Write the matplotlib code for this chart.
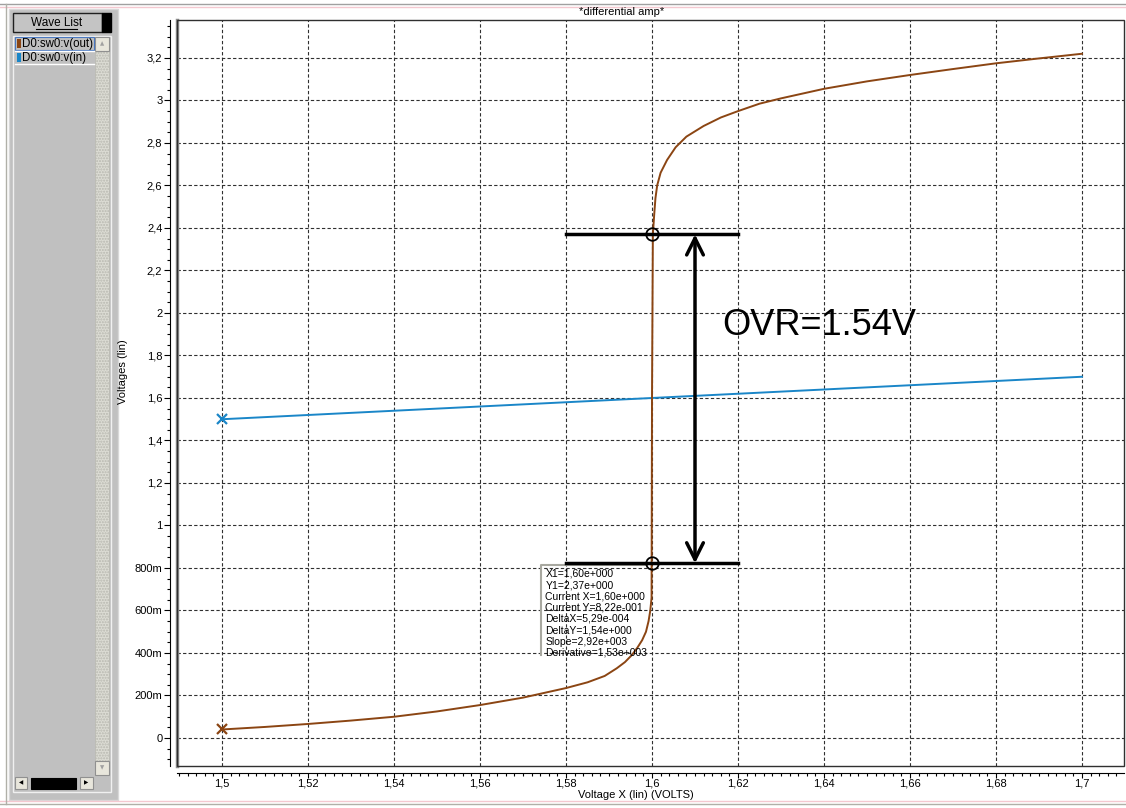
import matplotlib
matplotlib.use("Agg")
import matplotlib.pyplot as plt
from matplotlib.patches import Rectangle
from matplotlib.ticker import MultipleLocator, FixedLocator

# v(in) sweep: straight line
vin_x = [1.5, 1.7]
vin_y = [1.5, 1.7]

# v(out) transfer curve
vout_x = [1.5, 1.51, 1.52, 1.53, 1.54, 1.55, 1.56, 1.57, 1.58, 1.585, 1.589,
          1.5918, 1.5937, 1.5953, 1.5966, 1.5977, 1.5986, 1.5992, 1.5996, 1.5999,
          1.6, 1.6002,
          1.6005, 1.6008, 1.6012, 1.602, 1.6035, 1.6055, 1.608, 1.612, 1.616,
          1.62, 1.625, 1.63, 1.64, 1.65, 1.66, 1.67, 1.68, 1.69, 1.7]
vout_y = [0.04, 0.052, 0.066, 0.082, 0.10, 0.125, 0.155, 0.19, 0.235, 0.262, 0.292,
          0.328, 0.357, 0.39, 0.425, 0.46, 0.50, 0.55, 0.60, 0.66,
          1.6, 2.37,
          2.46, 2.54, 2.60, 2.66, 2.72, 2.78, 2.83, 2.88, 2.92,
          2.95, 2.985, 3.01, 3.055, 3.09, 3.12, 3.148, 3.175, 3.198, 3.22]

# cursor readout
x1, y1 = 1.6, 2.37
cur_x, cur_y = 1.6, 0.822
ovr = 1.54
cursor_lines = ["X1=1,60e+000", "Y1=2,37e+000", "Current X=1,60e+000",
                "Current Y=8,22e-001", "DeltaX=5,29e-004", "DeltaY=1,54e+000",
                "Slope=2,92e+003", "Derivative=1,53e+003"]

yticks = [0, 0.2, 0.4, 0.6, 0.8, 1.0, 1.2, 1.4, 1.6, 1.8, 2.0, 2.2, 2.4, 2.6, 2.8, 3.0, 3.2]
ylabels = ["0", "200m", "400m", "600m", "800m", "1", "1,2", "1,4", "1,6", "1,8",
           "2", "2,2", "2,4", "2,6", "2,8", "3", "3,2"]
xticks = [1.5, 1.52, 1.54, 1.56, 1.58, 1.6, 1.62, 1.64, 1.66, 1.68, 1.7]
xlabels = ["1,5", "1,52", "1,54", "1,56", "1,58", "1,6", "1,62", "1,64", "1,66", "1,68", "1,7"]

BROWN = "#8b4513"
BLUE = "#1a86c8"
W, H = 1126, 808

plt.rcParams['font.family'] = ['Liberation Sans', 'DejaVu Sans']

fig = plt.figure(figsize=(W / 100, H / 100), dpi=100)


def px(x0, y0, x1_, y1_):
    # pixel box (top-left origin) -> figure fraction rect
    return (x0 / W, 1 - y1_ / H, (x1_ - x0) / W, (y1_ - y0) / H)


def frect(x0, y0, x1_, y1_, **kw):
    l, b, w, h = px(x0, y0, x1_, y1_)
    fig.patches.append(Rectangle((l, b), w, h, transform=fig.transFigure, **kw))


def fline(xs, ys, **kw):
    fig.add_artist(plt.Line2D([x / W for x in xs], [1 - y / H for y in ys],
                              transform=fig.transFigure, **kw))


# window frame
fline([0, W], [4, 4], color="#a0a0a0", lw=1)
fline([0, W], [7, 7], color="#f4c8d0", lw=1)
fline([0, W], [801, 801], color="#f4c8d0", lw=1)
fline([0, W], [804, 804], color="#b0b0a8", lw=1)
fline([6, 6], [4, 804], color="#b0b0a8", lw=1)

# wave list panel
frect(9, 9, 118, 800, facecolor="#c0c0c0", edgecolor="#d8d8d8", lw=1)
frect(13, 13, 102, 32, facecolor="#c4c4c4", edgecolor="#202020", lw=1)
frect(102, 13, 111, 32, facecolor="black", edgecolor="black", lw=1)
fig.text(57 / W, 1 - 22.5 / H, "Wave List", ha="center", va="center", fontsize=8.5)
fline([36, 77], [29, 29], color="black", lw=0.8)
frect(13, 36, 111, 792, facecolor="#c0c0c0", edgecolor="#f0f0f0", lw=1)
frect(95, 37, 109, 775, facecolor="#dcdcd4", edgecolor="#b8b8b0", lw=0.5,
      hatch="......")
frect(95, 37, 109, 51, facecolor="#e8e6dc", edgecolor="#909090", lw=0.8)
fig.text(102 / W, 1 - 44 / H, "▲", ha="center", va="center", fontsize=4,
         color="#a0a0a0", family="DejaVu Sans")
frect(95, 761, 109, 775, facecolor="#e8e6dc", edgecolor="#909090", lw=0.8)
fig.text(102 / W, 1 - 768 / H, "▼", ha="center", va="center", fontsize=4,
         color="#a0a0a0", family="DejaVu Sans")
frect(15, 777, 27, 789, facecolor="#e8e6dc", edgecolor="#909090", lw=0.8)
fig.text(21 / W, 1 - 783 / H, "◀", ha="center", va="center", fontsize=4,
         family="DejaVu Sans")
frect(31, 778, 76, 789, facecolor="black", edgecolor="black", lw=0.8)
frect(80, 777, 93, 789, facecolor="#e8e6dc", edgecolor="#909090", lw=0.8)
fig.text(86.5 / W, 1 - 783 / H, "▶", ha="center", va="center", fontsize=4,
         family="DejaVu Sans")
frect(15, 37, 94, 50, facecolor="#c0c0c0", edgecolor="#4a78c0", lw=0.8)
frect(17, 39, 21, 48, facecolor=BROWN, edgecolor="none")
fig.text(22 / W, 1 - 44 / H, "D0:sw0:v(out)", va="center", fontsize=8.3)
fline([15, 94], [51, 51], color="white", lw=1)
frect(17, 53, 21, 62, facecolor=BLUE, edgecolor="none")
fig.text(22 / W, 1 - 58 / H, "D0:sw0:v(in)", va="center", fontsize=8.3)
fline([15, 94], [64, 64], color="white", lw=1)

# plot area
ax = fig.add_axes(px(177, 20, 1124, 766))
ax.set_xlim(1.48953, 1.70977)
ax.set_ylim(-0.1318, 3.3788)

for s in ax.spines.values():
    s.set_visible(False)
ax.spines['left'].set_visible(True)
ax.spines['bottom'].set_visible(True)
ax.spines['left'].set_position(('outward', 5))
ax.spines['bottom'].set_position(('outward', 5))
ax.spines['left'].set_linewidth(0.8)
ax.spines['bottom'].set_linewidth(0.8)
ax.add_patch(Rectangle((0, 0), 1, 1, transform=ax.transAxes, fill=False,
                       edgecolor="#303030", lw=1.0, clip_on=False, zorder=5))
ax.plot([0, 0], [0, 1], transform=ax.transAxes, color="#909090", lw=2.5,
        clip_on=False, zorder=4)

ax.yaxis.set_major_locator(FixedLocator(yticks))
ax.set_yticklabels(ylabels)
ax.yaxis.set_minor_locator(MultipleLocator(0.05))
ax.xaxis.set_major_locator(FixedLocator(xticks))
ax.set_xticklabels(xlabels)
ax.xaxis.set_minor_locator(MultipleLocator(0.002))
ax.tick_params(which="major", length=4, width=0.8, labelsize=8, pad=1.5, direction="out")
ax.tick_params(axis="x", which="major", length=3.5, pad=0.5)
ax.tick_params(which="minor", length=2.5, width=0.8, direction="out")
ax.grid(True, which="major", color="#303030", linestyle=(0, (3, 2)), lw=0.8)

ax.plot(vin_x, vin_y, color=BLUE, lw=1.4, zorder=3)
ax.plot(vin_x[0], vin_y[0], marker="x", color=BLUE, ms=7, mew=1.6, zorder=3)
ax.plot(vout_x, vout_y, color=BROWN, lw=1.4, zorder=3)
ax.plot(vout_x[0], vout_y[0], marker="x", color=BROWN, ms=7, mew=1.6, zorder=3)

# OVR markers
ax.plot([1.58, 1.62], [y1, y1], color="black", lw=2.5, zorder=6)
ax.plot([1.58, 1.62], [cur_y, cur_y], color="black", lw=2.5, zorder=6)
ax.plot([x1, cur_x], [y1, cur_y], "o", mfc="none", mec="black", ms=9, mew=1.3, zorder=7)
ax.annotate("", xy=(1.61, cur_y), xytext=(1.61, y1),
            arrowprops=dict(arrowstyle="<->", color="black", lw=2.5,
                            mutation_scale=30, shrinkA=0, shrinkB=0), zorder=6)
ax.text(1.6164, 1.943, f"OVR={ovr}V", fontsize=26, va="center", ha="left")

# cursor readout box
ax.plot([1.5742, 1.5742, 1.5988], [0.39, 0.815, 0.815], color="#a8a8a0", lw=1.5, zorder=4)
ax.text(1.5752, 0.796, "\n".join(cursor_lines), fontsize=7.5, va="top", ha="left",
        linespacing=1.16, zorder=5)

fig.text(622 / W, 1 - 12 / H, "*differential amp*", ha="center", va="center", fontsize=8)
fig.text(636 / W, 1 - 795 / H, "Voltage X (lin) (VOLTS)", ha="center", va="center", fontsize=8)
fig.text(123 / W, 1 - 372 / H, "Voltages (lin)", ha="center", va="center",
         rotation=90, fontsize=8)

fig.savefig("out.png", dpi=100)
